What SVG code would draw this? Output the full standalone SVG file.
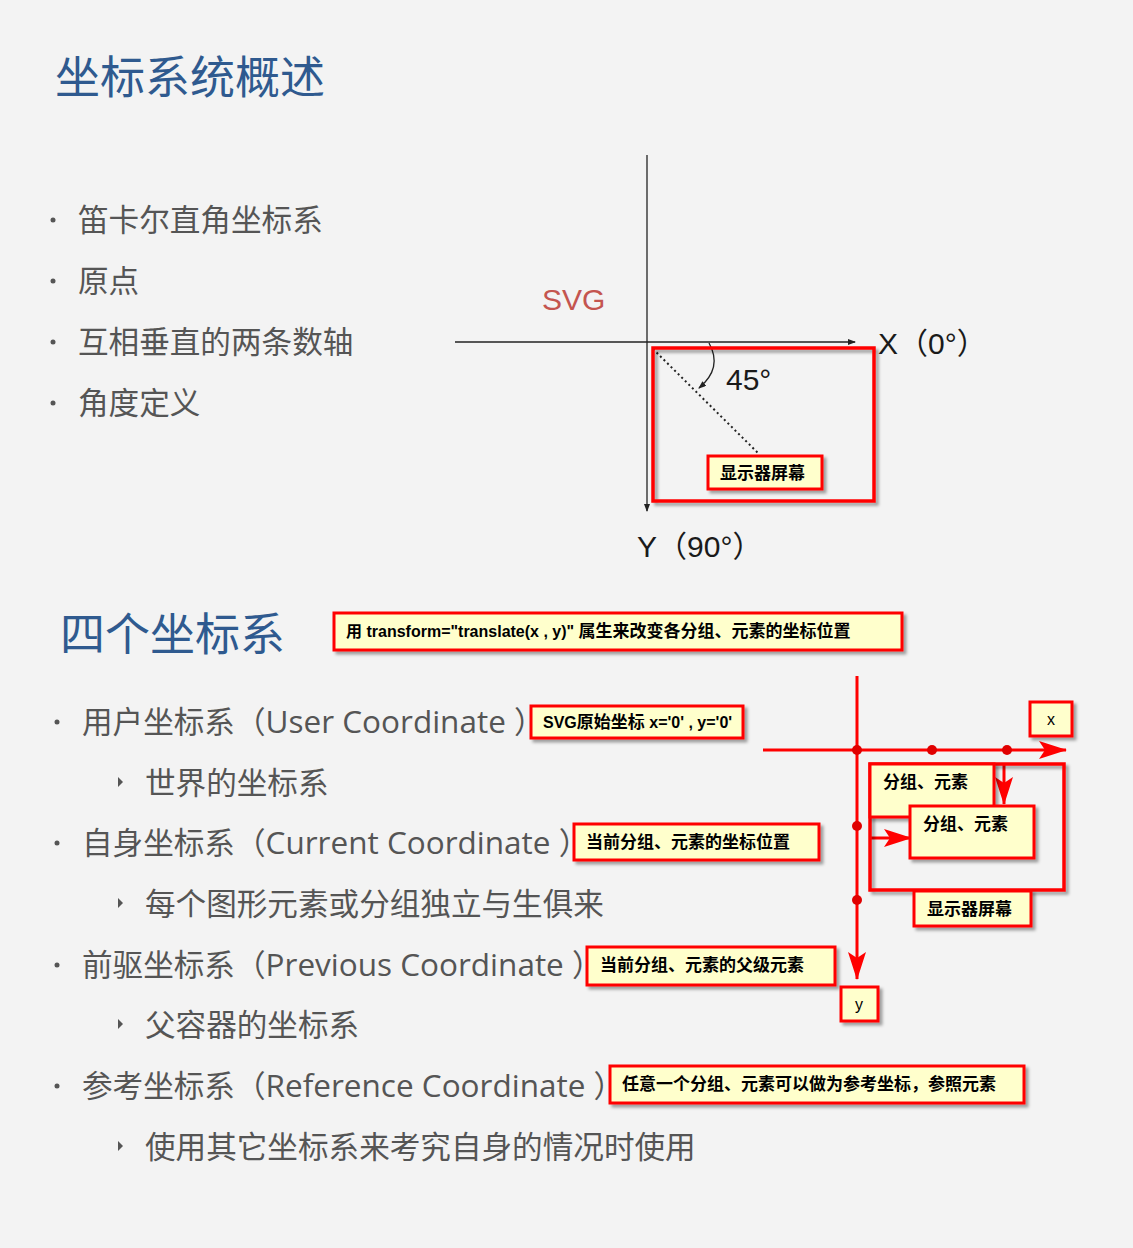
<svg xmlns="http://www.w3.org/2000/svg" width="1133" height="1248" viewBox="0 0 1133 1248">
<defs>
<style>
.title{font-family:"Noto Sans CJK SC","Noto Sans",sans-serif;font-size:45px;fill:#2f5a8f}
.b1{font-family:"Open Sans","Noto Sans CJK SC",sans-serif;font-size:30.6px;fill:#555555}
.lt{font-size:31.5px}
.ax{font-family:"Liberation Sans","Noto Sans CJK SC",sans-serif;font-size:30px;fill:#1a1a1a}
.cl{font-family:"Liberation Sans","Noto Sans CJK SC",sans-serif;font-size:17px;font-weight:bold;fill:#000}
.la{font-size:16px}
.box{fill:#ffffcc;stroke:#ff0000;stroke-width:3;filter:url(#sh)}
.frame{fill:none;stroke:#ff0000;stroke-width:3.5;filter:url(#sh)}
.rl{stroke:#ff0000;stroke-width:3;fill:none}
.dot{fill:#e00000}
</style>
<filter id="sh" x="-10%" y="-20%" width="130%" height="150%">
<feDropShadow dx="3" dy="3" stdDeviation="1.5" flood-color="#000" flood-opacity="0.35"/>
</filter>
<marker id="ab" markerWidth="8" markerHeight="6" refX="7" refY="3" orient="auto" markerUnits="userSpaceOnUse">
<path d="M0,0 L8,3 L0,6 z" fill="#222"/>
</marker>
<marker id="ar" markerWidth="28" markerHeight="18" refX="27" refY="9" orient="auto" markerUnits="userSpaceOnUse">
<path d="M0,0 L28,9 L0,18 L6,9 z" fill="#ff0000"/>
</marker>
</defs>
<rect width="1133" height="1248" fill="#f3f3f3"/>

<g id="title1"><text class="title" x="55" y="94">坐标系统概述</text></g>
<g id="list1">
<circle cx="53" cy="220" r="2.5" fill="#555"/><text class="b1" x="78" y="231">笛卡尔直角坐标系</text>
<circle cx="53" cy="281" r="2.5" fill="#555"/><text class="b1" x="78" y="292">原点</text>
<circle cx="53" cy="342" r="2.5" fill="#555"/><text class="b1" x="78" y="353">互相垂直的两条数轴</text>
<circle cx="53" cy="403" r="2.5" fill="#555"/><text class="b1" x="78" y="414">角度定义</text>
</g>

<g id="connectors">
<line x1="647" y1="155" x2="647" y2="511" stroke="#222" stroke-width="1.3" marker-end="url(#ab)"/>
<line x1="455" y1="342" x2="855" y2="342" stroke="#222" stroke-width="1.3" marker-end="url(#ab)"/>
<line x1="653" y1="349" x2="759" y2="454" stroke="#222" stroke-width="2" stroke-dasharray="2,3"/>
<path d="M709,343 Q723,368 699,388" stroke="#222" stroke-width="1.3" fill="none" marker-end="url(#ab)"/>
<line x1="763" y1="750" x2="1066" y2="750" class="rl" marker-end="url(#ar)"/>
<line x1="857" y1="676" x2="857" y2="979" class="rl" marker-end="url(#ar)"/>
<line x1="1004" y1="764" x2="1004" y2="804" class="rl" marker-end="url(#ar)"/>
<line x1="870" y1="838" x2="911" y2="838" class="rl" marker-end="url(#ar)"/>
</g>

<g id="svg-label"><text x="542" y="310" font-family="Liberation Sans,Arial,sans-serif" font-size="30" fill="#c4554f">SVG</text></g>
<g id="x-label"><text class="ax" x="878" y="354">X（0°）</text></g>
<g id="y-label"><text class="ax" x="637" y="557">Y（90°）</text></g>
<g id="angle"><text class="ax" x="726" y="390">45°</text></g>
<g id="screen1">
<rect class="frame" x="653" y="348" width="221" height="153"/>
<rect class="box" x="708" y="456" width="114" height="33"/>
<text class="cl" x="720" y="479">显示器屏幕</text>
</g>

<g id="title2"><text class="title" x="60" y="651">四个坐标系</text></g>
<g id="callout-transform">
<rect class="box" x="334" y="613" width="568" height="37"/>
<text class="cl" x="346" y="637"><tspan class="la">用 transform="translate(x , y)" </tspan>属生来改变各分组、元素的坐标位置</text>
</g>

<g id="list2">
<circle cx="57" cy="722" r="2.5" fill="#555"/><text class="b1" x="82" y="733">用户坐标系（<tspan class="lt">User Coordinate </tspan>）</text>
<path d="M118,777 L123,782 L118,787 z" fill="#555"/><text class="b1" x="145" y="794">世界的坐标系</text>
<circle cx="57" cy="843" r="2.5" fill="#555"/><text class="b1" x="82" y="854">自身坐标系（<tspan class="lt">Current Coordinate </tspan>）</text>
<path d="M118,898 L123,903 L118,908 z" fill="#555"/><text class="b1" x="145" y="915">每个图形元素或分组独立与生俱来</text>
<circle cx="57" cy="965" r="2.5" fill="#555"/><text class="b1" x="82" y="976">前驱坐标系（<tspan class="lt">Previous Coordinate </tspan>）</text>
<path d="M118,1019 L123,1024 L118,1029 z" fill="#555"/><text class="b1" x="145" y="1036">父容器的坐标系</text>
<circle cx="57" cy="1086" r="2.5" fill="#555"/><text class="b1" x="82" y="1097">参考坐标系（<tspan class="lt">Reference Coordinate </tspan>）</text>
<path d="M118,1141 L123,1146 L118,1151 z" fill="#555"/><text class="b1" x="145" y="1158">使用其它坐标系来考究自身的情况时使用</text>
</g>

<g id="callout-user">
<rect class="box" x="531" y="706" width="212" height="32"/>
<text class="cl" x="543" y="728"><tspan class="la">SVG</tspan>原始坐标<tspan class="la"> x='0' , y='0'</tspan></text>
</g>
<g id="callout-current">
<rect class="box" x="574" y="824" width="245" height="36"/>
<text class="cl" x="586" y="848">当前分组、元素的坐标位置</text>
</g>
<g id="callout-previous">
<rect class="box" x="587" y="947" width="248" height="38"/>
<text class="cl" x="600" y="971">当前分组、元素的父级元素</text>
</g>
<g id="callout-reference">
<rect class="box" x="610" y="1066" width="414" height="37"/>
<text class="cl" x="622" y="1090">任意一个分组、元素可以做为参考坐标，参照元素</text>
</g>

<g id="dots">
<circle class="dot" cx="857" cy="750" r="5"/>
<circle class="dot" cx="932" cy="750" r="5"/>
<circle class="dot" cx="1007" cy="750" r="5"/>
<circle class="dot" cx="857" cy="826" r="5"/>
<circle class="dot" cx="857" cy="900" r="5"/>
</g>
<g id="x-box">
<rect class="box" x="1030" y="702" width="42" height="34"/>
<text class="cl" x="1051" y="725" text-anchor="middle" style="font-weight:normal;font-size:16px">x</text>
</g>
<g id="y-box">
<rect class="box" x="841" y="987" width="37" height="34"/>
<text class="cl" x="859" y="1010" text-anchor="middle" style="font-weight:normal;font-size:16px">y</text>
</g>
<g id="screen2">
<rect class="frame" x="870" y="764" width="194" height="126"/>
</g>
<g id="group1">
<rect class="box" x="870" y="764" width="124" height="53"/>
<text class="cl" x="883" y="788">分组、元素</text>
</g>
<g id="group2">
<rect class="box" x="910" y="806" width="124" height="52"/>
<text class="cl" x="923" y="830">分组、元素</text>
</g>
<g id="screen2-label">
<rect class="box" x="914" y="891" width="117" height="35"/>
<text class="cl" x="927" y="915">显示器屏幕</text>
</g>
</svg>
